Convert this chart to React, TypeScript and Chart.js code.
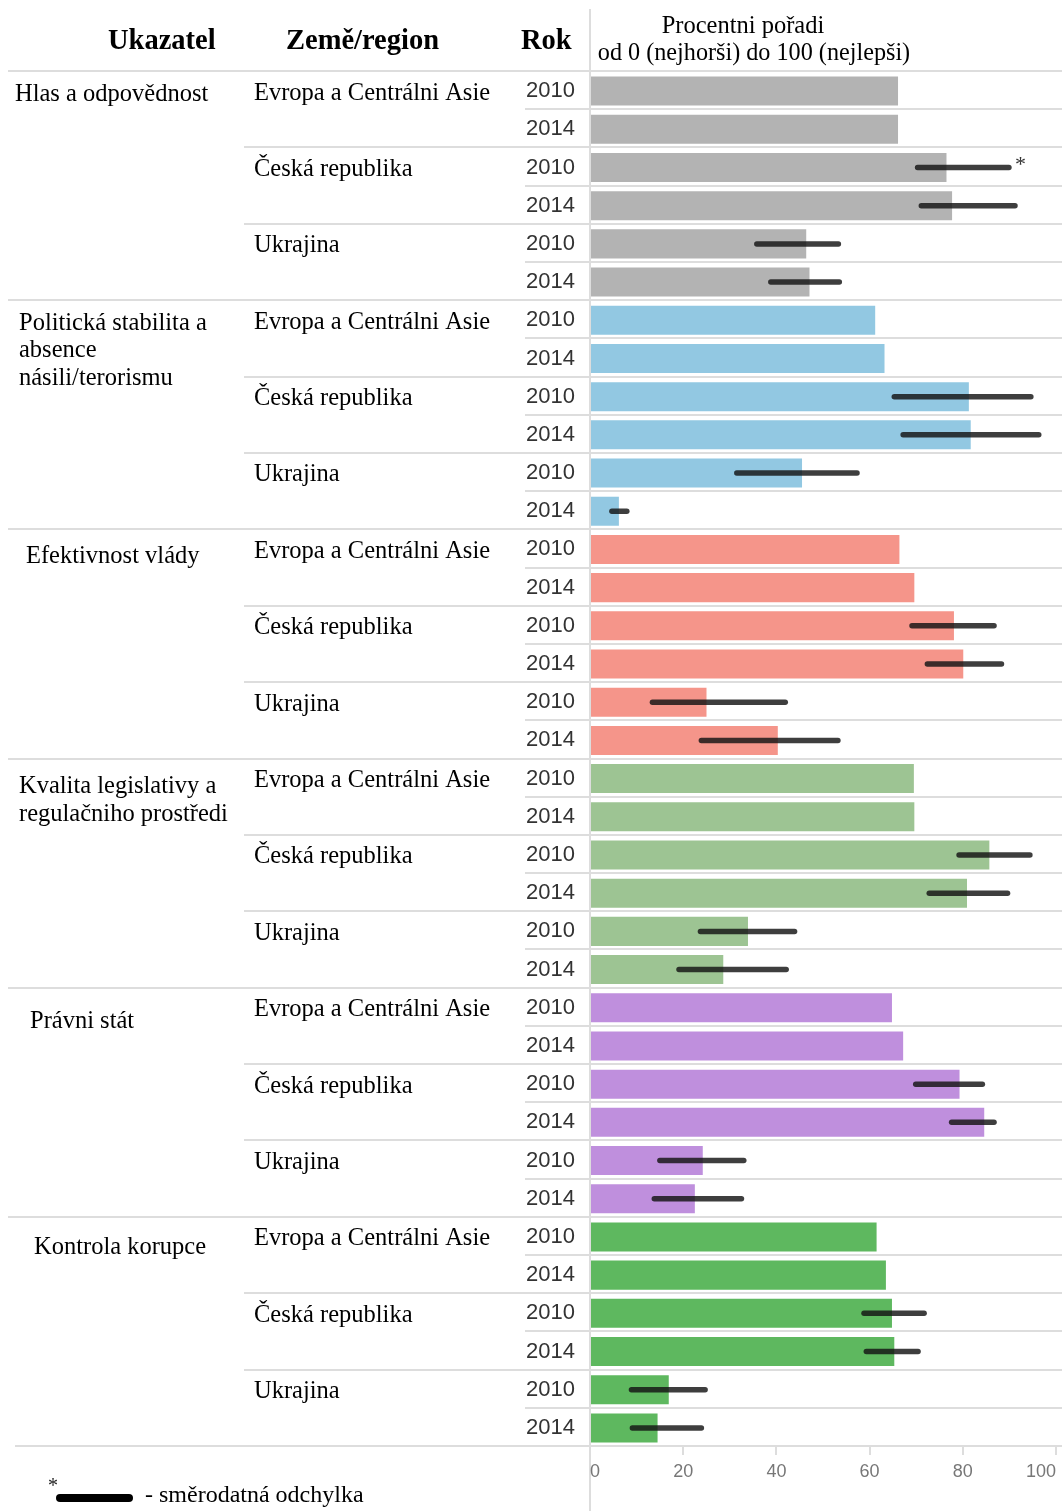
import React, { useEffect, useRef } from "react";
import { Chart, registerables } from "chart.js";
Chart.register(...registerables);

// ---------- DATA ----------
const indicators: string[][] = [
  ["Hlas a odpovědnost"],
  ["Politická stabilita a", "absence", "násili/terorismu"],
  ["Efektivnost vlády"],
  ["Kvalita legislativy a", "regulačniho prostředi"],
  ["Právni stát"],
  ["Kontrola korupce"],
];
const countries = ["Evropa a Centrálni Asie", "Česká republika", "Ukrajina"];
const years = ["2010", "2014"];
const tickValues = [0, 20, 40, 60, 80, 100];

// order in each: EAC 2010, EAC 2014, CZ 2010, CZ 2014, UA 2010, UA 2014
const voiceValues = [66.1, 66.1, 76.5, 77.7, 46.4, 47.1];
const stabilityValues = [61.2, 63.2, 81.3, 81.7, 45.5, 6.2];
const effectivenessValues = [66.4, 69.6, 78.1, 80.1, 25.0, 40.3];
const regulatoryValues = [69.5, 69.6, 85.7, 80.9, 33.9, 28.6];
const ruleOfLawValues = [64.8, 67.2, 79.3, 84.6, 24.2, 22.5];
const corruptionValues = [61.5, 63.5, 64.8, 65.3, 16.9, 14.5];

// standard deviation ranges [low, high]; null = not shown
type R = [number, number] | null;
const voiceErr: R[] = [null, null, [70.3, 89.9], [71.1, 91.2], [35.8, 53.3], [38.8, 53.5]];
const stabilityErr: R[] = [null, null, [65.3, 94.6], [67.2, 96.3], [31.5, 57.3], [4.7, 7.9]];
const effectivenessErr: R[] = [null, null, [69.1, 86.7], [72.4, 88.3], [13.4, 41.9], [23.9, 53.2]];
const regulatoryErr: R[] = [null, null, [79.2, 94.4], [72.8, 89.6], [23.7, 43.9], [19.1, 42.1]];
const ruleOfLawErr: R[] = [null, null, [69.9, 84.2], [77.6, 86.7], [15.0, 33.0], [13.8, 32.5]];
const corruptionErr: R[] = [null, null, [58.8, 71.7], [59.3, 70.4], [8.9, 24.7], [9.1, 23.9]];

const indicatorColors = ["#b3b3b3", "#92c8e2", "#f5958a", "#9dc493", "#bf8fdd", "#5eb85f"];

// ---------- layout-only helpers ----------
const indicatorIndent = [15, 19, 26, 19, 30, 34];
const indicatorDy = [3, 3, 7, 8, 14, 11];

const groupValues = [voiceValues, stabilityValues, effectivenessValues, regulatoryValues, ruleOfLawValues, corruptionValues];
const groupErrs = [voiceErr, stabilityErr, effectivenessErr, regulatoryErr, ruleOfLawErr, corruptionErr];

const rowLabels: string[] = [];
const values: number[] = [];
const errs: R[] = [];
const colors: string[] = [];
indicators.forEach((ind, g) => {
  countries.forEach((c, ci) => {
    years.forEach((yr, yi) => {
      const k = ci * 2 + yi;
      rowLabels.push(`${ind.join(" ")} | ${c} | ${yr}`);
      values.push(groupValues[g][k]);
      errs.push(groupErrs[g][k]);
      colors.push(indicatorColors[g]);
    });
  });
});

const SERIF = '"Liberation Serif", "Times New Roman", serif';
const SANS = '"Liberation Sans", Arial, sans-serif';

const tablePlugin = {
  id: "tablePlugin",
  beforeDraw(chart: any) {
    const { ctx, chartArea, width, height } = chart;
    const n = rowLabels.length;
    const rowH = (chartArea.bottom - chartArea.top) / n;
    ctx.save();
    ctx.strokeStyle = "#dddddd";
    ctx.lineWidth = 2;
    for (let k = 0; k <= n; k++) {
      const y = Math.round(chartArea.top + k * rowH) - 1;
      let x0 = 8;
      if (k === n) x0 = 15;
      else if (k % 6 === 0) x0 = 8;
      else if (k % 2 === 0) x0 = 244;
      else x0 = 525;
      ctx.beginPath();
      ctx.moveTo(x0, y);
      ctx.lineTo(width, y);
      ctx.stroke();
    }
    ctx.beginPath();
    ctx.moveTo(chartArea.left, 9);
    ctx.lineTo(chartArea.left, height);
    ctx.stroke();
    ctx.restore();
  },
  afterDatasetsDraw(chart: any) {
    const { ctx } = chart;
    const xs = chart.scales.x;
    const ys = chart.scales.y;
    ctx.save();
    ctx.strokeStyle = "rgba(20,20,20,0.82)";
    ctx.lineWidth = 5.5;
    ctx.lineCap = "round";
    errs.forEach((e, i) => {
      if (!e) return;
      const y = ys.getPixelForValue(i);
      ctx.beginPath();
      ctx.moveTo(xs.getPixelForValue(e[0]), y);
      ctx.lineTo(xs.getPixelForValue(e[1]), y);
      ctx.stroke();
    });
    // asterisk on the first standard-deviation bar
    const firstIdx = errs.findIndex((e) => e !== null);
    if (firstIdx >= 0) {
      const e = errs[firstIdx] as [number, number];
      ctx.fillStyle = "#333";
      ctx.font = `22px ${SERIF}`;
      ctx.textAlign = "left";
      ctx.textBaseline = "middle";
      ctx.fillText("*", xs.getPixelForValue(e[1]) + 6, ys.getPixelForValue(firstIdx) - 2);
    }
    ctx.restore();
  },
  afterDraw(chart: any) {
    const { ctx } = chart;
    const ys = chart.scales.y;
    ctx.save();
    ctx.textBaseline = "middle";
    ctx.textAlign = "left";
    // headers
    ctx.fillStyle = "#000";
    ctx.font = `bold 28.5px ${SERIF}`;
    ctx.fillText("Ukazatel", 108, 42);
    ctx.fillText("Země/region", 286, 42);
    ctx.fillText("Rok", 521, 42);
    ctx.font = `24.5px ${SERIF}`;
    ctx.textAlign = "center";
    ctx.fillText("Procentni pořadi", 743, 27);
    ctx.font = `24.2px ${SERIF}`;
    ctx.fillText("od 0 (nejhorši) do 100 (nejlepši)", 754, 54);

    // rows
    ctx.textAlign = "left";
    indicators.forEach((lines, g) => {
      const base = ys.getPixelForValue(g * 6) + indicatorDy[g];
      ctx.fillStyle = "#000";
      ctx.font = `24.5px ${SERIF}`;
      lines.forEach((ln, li) => ctx.fillText(ln, indicatorIndent[g], base + li * 27.5));
      countries.forEach((c, ci) => {
        ctx.fillText(c, 254, ys.getPixelForValue(g * 6 + ci * 2) + 2);
      });
    });
    ctx.fillStyle = "#333";
    ctx.font = `22px ${SANS}`;
    ctx.textAlign = "right";
    rowLabels.forEach((_, i) => {
      ctx.fillText(years[i % 2], 575, ys.getPixelForValue(i));
    });

    // legend
    ctx.textAlign = "left";
    ctx.fillStyle = "#222";
    ctx.font = `20px ${SERIF}`;
    ctx.fillText("*", 48, 1487);
    ctx.strokeStyle = "#000";
    ctx.lineWidth = 8;
    ctx.lineCap = "round";
    ctx.beginPath();
    ctx.moveTo(60, 1498);
    ctx.lineTo(129, 1498);
    ctx.stroke();
    ctx.fillStyle = "#000";
    ctx.font = `24px ${SERIF}`;
    ctx.fillText("- směrodatná odchylka", 145, 1496);
    ctx.restore();
  },
};

export default function App() {
  const ref = useRef<HTMLCanvasElement | null>(null);
  useEffect(() => {
    if (!ref.current) return;
    const chart = new Chart(ref.current, {
      type: "bar",
      data: {
        labels: rowLabels,
        datasets: [
          {
            data: values,
            backgroundColor: colors,
            borderWidth: 0,
            barPercentage: 0.76,
            categoryPercentage: 1,
          },
        ],
      },
      options: {
        indexAxis: "y",
        responsive: false,
        animation: false,
        devicePixelRatio: 1,
        layout: { padding: { left: 590, right: 6, top: 72, bottom: 0 } },
        plugins: { legend: { display: false }, tooltip: { enabled: false } },
        scales: {
          x: {
            type: "linear",
            min: 0,
            max: 100,
            position: "bottom",
            afterBuildTicks: (s: any) => {
              s.ticks = tickValues.map((v) => ({ value: v }));
            },
            afterFit: (s: any) => {
              s.height = 64;
              s.paddingLeft = 0;
              s.paddingRight = 0;
            },
            grid: { drawOnChartArea: false, drawTicks: true, tickLength: 8, color: "#dddddd", lineWidth: 2 },
            border: { display: false },
            ticks: {
              align: "inner",
              padding: 6,
              color: "#777777",
              autoSkip: false,
              maxRotation: 0,
              font: { family: SANS, size: 18 },
            },
          },
          y: { type: "category", display: false, offset: true },
        },
      } as any,
      plugins: [tablePlugin],
    });
    return () => chart.destroy();
  }, []);
  return (
    <canvas
      ref={ref}
      width={1062}
      height={1511}
      style={{ position: "absolute", left: 0, top: 0, display: "block", width: 1062, height: 1511 }}
    />
  );
}
